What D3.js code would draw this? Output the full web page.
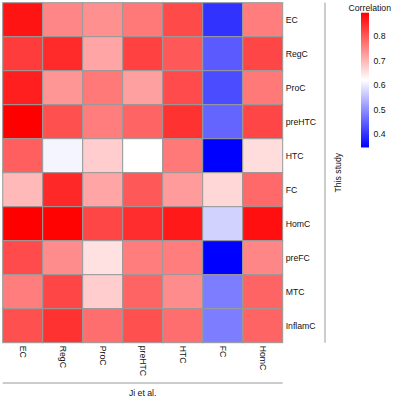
<!DOCTYPE html>
<html>
<head>
<meta charset="utf-8">
<script src="https://cdn.jsdelivr.net/npm/d3@7"></script>
<style>
  body { margin: 0; background: #fff; }
  text { font-family: "Liberation Sans", Arial, sans-serif; font-size: 8.7px; fill: #111; }
</style>
</head>
<body>
<div id="chart"></div>
<script>
// rows = this study, cols = Ji et al.
let rowLabels = ["EC", "RegC", "ProC", "preHTC", "HTC", "FC", "HomC", "preFC", "MTC", "InflamC"]
let colLabels = ["EC", "RegC", "ProC", "preHTC", "HTC", "FC", "HomC"]
let values = [
    [0.873, 0.750, 0.740, 0.765, 0.815, 0.399, 0.760],
    [0.830, 0.850, 0.717, 0.825, 0.800, 0.442, 0.820],
    [0.862, 0.733, 0.765, 0.722, 0.814, 0.426, 0.765],
    [0.895, 0.809, 0.760, 0.787, 0.841, 0.453, 0.820],
    [0.793, 0.609, 0.674, 0.620, 0.765, 0.345, 0.657],
    [0.696, 0.852, 0.717, 0.800, 0.728, 0.663, 0.782],
    [0.895, 0.893, 0.820, 0.846, 0.868, 0.572, 0.879],
    [0.814, 0.744, 0.652, 0.760, 0.760, 0.345, 0.750],
    [0.760, 0.820, 0.674, 0.787, 0.744, 0.480, 0.787],
    [0.809, 0.841, 0.776, 0.809, 0.776, 0.480, 0.787]
]
let legendTicks = [0.4, 0.5, 0.6, 0.7, 0.8]

let W = 393, H = 401
let svg = d3.select("#chart").append("svg")
    .attr("width", W)
    .attr("height", H)

let gx0 = 2.7, gy0 = 2.7, cw = 40, ch = 34

let x = d3.scaleBand().domain(colLabels).range([gx0, gx0 + cw*colLabels.length])
let y = d3.scaleBand().domain(rowLabels).range([gy0, gy0 + ch*rowLabels.length])

let flat = values.flat()
let vmin = d3.min(flat), vmax = d3.max(flat)
let color = d3.scaleLinear()
    .domain([vmin, (vmin+vmax)/2, vmax])
    .range(["#0000ff", "#ffffff", "#ff0000"])

let cells = []
values.forEach((row, i) => row.forEach((v, j) => cells.push({r: rowLabels[i], c: colLabels[j], v: v})))

svg.append("g").selectAll("rect")
    .data(cells)
    .enter().append("rect")
    .attr("x", d => x(d.c))
    .attr("y", d => y(d.r))
    .attr("width", x.bandwidth())
    .attr("height", y.bandwidth())
    .style("fill", d => color(d.v))
    .style("stroke", "#999999")
    .style("stroke-width", 1)

// row labels
svg.append("g").selectAll("text")
    .data(rowLabels)
    .enter().append("text")
    .attr("x", x.range()[1] + 3)
    .attr("y", d => y(d) + y.bandwidth()/2)
    .attr("dy", "0.35em")
    .text(d => d)

// column labels, rotated
svg.append("g").selectAll("text")
    .data(colLabels)
    .enter().append("text")
    .attr("transform", d => "translate(" + (x(d) + x.bandwidth()/2) + "," + (y.range()[1] + 3) + ") rotate(90)")
    .attr("dy", "0.35em")
    .text(d => d)

// group annotations
svg.append("line")
    .attr("x1", x.range()[0]).attr("x2", x.range()[1])
    .attr("y1", 383).attr("y2", 383)
    .style("stroke", "#999999").style("stroke-width", 1)
svg.append("text")
    .attr("x", (x.range()[0] + x.range()[1])/2)
    .attr("y", 396)
    .attr("text-anchor", "middle")
    .text("Ji et al.")

svg.append("line")
    .attr("x1", 325).attr("x2", 325)
    .attr("y1", y.range()[0]).attr("y2", y.range()[1])
    .style("stroke", "#999999").style("stroke-width", 1)
svg.append("text")
    .attr("transform", "translate(338," + ((y.range()[0] + y.range()[1])/2) + ") rotate(-90)")
    .attr("dy", "0.35em")
    .attr("text-anchor", "middle")
    .text("This study")

// legend
let ly = d3.scaleLinear().domain([0.4, 0.8]).range([134, 36])
let defs = svg.append("defs")
let grad = defs.append("linearGradient")
    .attr("id", "corgrad")
    .attr("x1", 0).attr("x2", 0).attr("y1", 1).attr("y2", 0)
color.domain().forEach((v, i) => {
    grad.append("stop")
        .attr("offset", (v - vmin)/(vmax - vmin))
        .attr("stop-color", color.range()[i])
})
svg.append("rect")
    .attr("x", 361)
    .attr("y", ly(vmax))
    .attr("width", 8)
    .attr("height", ly(vmin) - ly(vmax))
    .style("fill", "url(#corgrad)")

svg.append("g").selectAll("text")
    .data(legendTicks)
    .enter().append("text")
    .attr("x", 373.5)
    .attr("y", d => ly(d))
    .attr("dy", "0.35em")
    .text(d => d.toFixed(1))

svg.append("text")
    .attr("x", 348.5)
    .attr("y", 10.5)
    .text("Correlation")
</script>
</body>
</html>
